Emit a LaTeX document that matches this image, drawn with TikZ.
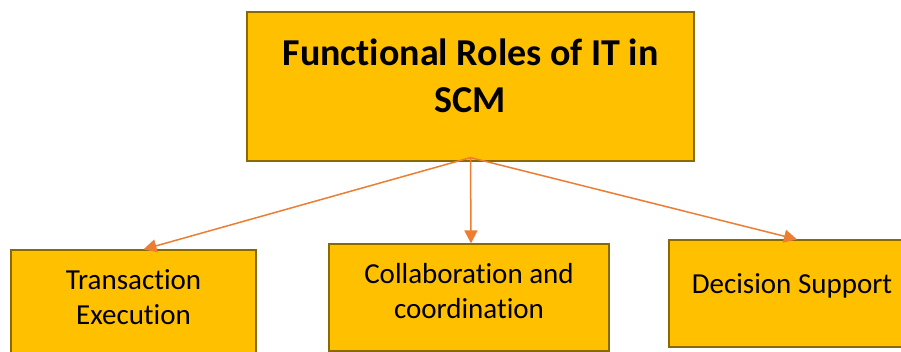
\documentclass[tikz,border=0pt]{standalone}
\usepackage{fontspec}
\setmainfont[Ligatures=NoCommon]{Carlito}
\usetikzlibrary{calc, positioning}
\usetikzlibrary{arrows.meta}
\definecolor{boxfill}{HTML}{FFC000}
\definecolor{boxline}{HTML}{8A6A00}
\definecolor{arrowline}{HTML}{ED7D31}
\def\bw{245pt}
\def\bh{107pt}
\tikzset{
    rolebox/.style = {
        draw=boxline, fill=boxfill, rectangle, line width=1.2pt, align=center,
        inner sep=0pt, minimum height=\bh
    },
    titlefont/.style = {font=\fontsize{38}{47}\selectfont\bfseries},
    bodyfont/.style = {font=\fontsize{29}{35}\selectfont}
    }

\begin{document}
\begin{tikzpicture}[x=1pt, y=-1pt]
        % Picture frame
        \useasboundingbox (0,0) rectangle (901,352);
        \clip (0,0) rectangle (901,352);
        % Place the blocks
        \node [rolebox, titlefont, minimum width=447pt, minimum height=149pt, text depth=22pt] (roles) at (470.5,86.5) {Functional Roles of IT in\\SCM};
        \node [rolebox, bodyfont, minimum width=\bw, minimum height=106pt, text depth=12pt] (transaction) at (133.5,303) {Transaction\\Execution};
        \node [rolebox, bodyfont, minimum width=280pt, text depth=14pt] (collaboration) at (469,297.5) {Collaboration and\\coordination};
        \node [rolebox, bodyfont, minimum width=246pt, text depth=20pt] (decision) at (792,293.5) {Decision Support};
        \coordinate (src) at ([yshift=4pt]roles.south);
        \begin{scope}[line width=1.5pt, draw=arrowline, >={Triangle[width=13pt,length=13pt]}]
            \draw[->, arrowline] (src) -- ([xshift=10pt]transaction.north);
            \draw[->, arrowline] (src) -- ([xshift=2pt]collaboration.north);
            \draw[->, arrowline] (src) -- ([xshift=5pt]decision.north);
        \end{scope}
    \end{tikzpicture}
\end{document}
